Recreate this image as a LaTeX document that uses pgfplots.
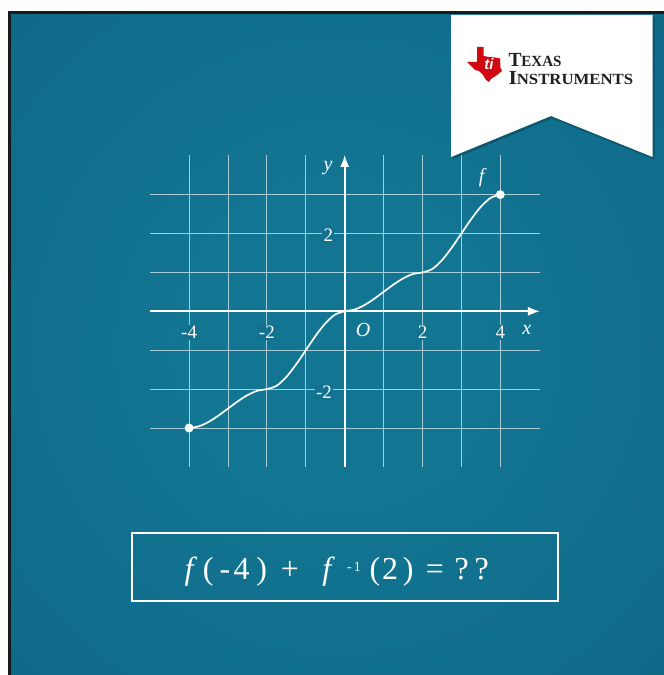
\documentclass[border=0pt]{standalone}
\usepackage{fontspec}
\setmainfont{Liberation Serif}
\newfontfamily\tisans{Liberation Sans}
\usepackage{graphicx}
\usepackage{pgfplots}
\pgfplotsset{compat=1.18}
\usetikzlibrary{arrows.meta}
\definecolor{tealA}{RGB}{18,117,146}
\definecolor{tealB}{RGB}{14,101,132}
\definecolor{tealC}{RGB}{10,85,116}
\definecolor{darkb}{RGB}{26,26,30}
\definecolor{gridc}{RGB}{165,205,215}
\definecolor{lblbg}{RGB}{17,113,142}
\definecolor{tired}{RGB}{206,10,16}
\definecolor{tiblack}{RGB}{35,31,32}
\pgfdeclareradialshading{vig}{\pgfpoint{0bp}{0bp}}{color(0bp)=(tealA); color(12bp)=(tealA); color(45bp)=(tealB); color(72bp)=(tealC)}
\newcommand{\lbl}{\fontsize{19}{19}\selectfont}
\newcommand{\lbi}{\fontsize{20}{20}\selectfont\itshape}
\begin{document}
\begin{tikzpicture}[x=1pt,y=1pt]
\path[use as bounding box] (0,0) rectangle (664,675);
\fill[white] (0,0) rectangle (664,675);
\fill[darkb] (8,0) rectangle (664,664);
\shade[shading=vig] (11,0) rectangle (664,660);
% banner
\fill[black,opacity=0.22] (452.5,658) -- (654.5,658) -- (654.5,515.5) -- (552,556.5) -- (452.5,515.5) -- cycle;
\fill[white] (451,660) -- (652.7,660) -- (652.7,518) -- (551,559) -- (451,518) -- cycle;
% TI logo
\fill[tired, shift={(467,593)}] (10,35) -- (16.5,35) -- (16.5,26) -- (22,25) -- (28,24.5) -- (33,23.5) -- (33.5,14) -- (35,11) -- (30,7) -- (24,3) -- (22,0) -- (19,2) -- (16,7) -- (12,11) -- (8,12) -- (5,15) -- (0,20) -- (10,20) -- cycle;
\node[white, font=\tisans\bfseries\itshape\fontsize{15}{15}\selectfont, inner sep=0pt] at (489,611) {ti};
\node[anchor=base west, inner sep=0pt, tiblack] at (508.3,608.3) {\scalebox{0.97}[1]{\bfseries\fontsize{20}{20}\selectfont T\fontsize{15.5}{15.5}\selectfont EXAS}};
\node[anchor=base west, inner sep=0pt, tiblack] at (508.3,590) {\scalebox{1.08}[1]{\bfseries\fontsize{20}{20}\selectfont I\fontsize{15.5}{15.5}\selectfont NSTRUMENTS}};
% graph
\begin{axis}[
  at={(344.7pt,363.7pt)}, anchor=origin,
  x=38.9pt, y=38.9pt,
  xmin=-5, xmax=5.02, ymin=-4, ymax=4.02,
  enlargelimits=false,
  axis lines*=middle,
  axis line style={white, line width=1.6pt, -{Latex[length=12pt,width=9pt]}},
  xtick={-4,...,4}, ytick={-3,...,3},
  xticklabels={}, yticklabels={},
  major tick length=0pt,
  grid=major,
  major grid style={gridc, line width=0.9pt},
  clip=false,
]
\addplot[white, line width=1.7pt, smooth] coordinates {
  (-4,-3) (-3.75,-2.957) (-3.5,-2.844) (-3.25,-2.684) (-3,-2.5) (-2.75,-2.316) (-2.5,-2.156) (-2.25,-2.043)
  (-2,-2) (-1.75,-1.914) (-1.5,-1.6875) (-1.25,-1.367) (-1,-1) (-0.75,-0.633) (-0.5,-0.3125) (-0.25,-0.086)
  (0,0) (0.25,0.043) (0.5,0.156) (0.75,0.316) (1,0.5) (1.25,0.684) (1.5,0.844) (1.75,0.957)
  (2,1) (2.25,1.086) (2.5,1.3125) (2.75,1.633) (3,2) (3.25,2.367) (3.5,2.6875) (3.75,2.914) (4,3)
};
\addplot[only marks, mark=*, mark size=4.2pt, white] coordinates {(-4,-3) (4,3)};
\node[white, font=\lbl, fill=lblbg, inner sep=1.2pt] at (axis cs:-4,-0.55) {-4};
\node[white, font=\lbl, fill=lblbg, inner sep=1.2pt] at (axis cs:-2,-0.55) {-2};
\node[white, font=\lbl, fill=lblbg, inner sep=1.2pt] at (axis cs:2,-0.55) {2};
\node[white, font=\lbl, fill=lblbg, inner sep=1.2pt] at (axis cs:4,-0.55) {4};
\node[white, font=\lbl, fill=lblbg, inner sep=1.2pt] at (axis cs:-0.42,1.96) {2};
\node[white, font=\lbl, fill=lblbg, inner sep=1.2pt] at (axis cs:-0.53,-2.08) {-2};
\node[white, font=\lbi, inner sep=0pt] at (axis cs:0.47,-0.48) {O};
\node[white, font=\lbi, inner sep=0pt] at (axis cs:4.68,-0.48) {x};
\node[white, font=\lbi, inner sep=0pt] at (axis cs:-0.43,3.67) {y};
\node[white, font=\lbi, inner sep=0pt] at (axis cs:3.52,3.43) {f};
\end{axis}
% equation box
\draw[white, line width=1.8pt] (131.7,74) rectangle (558.3,142.3);
\begin{scope}[every node/.style={white, anchor=base, inner sep=0pt, font=\fontsize{32}{34}\selectfont}]
\node at (189,95.5) {\itshape f};
\node at (208.3,95.5) {(};
\node at (225,95.5) {-};
\node at (241.7,95.5) {4};
\node at (261.7,95.5) {)};
\node at (290,95.5) {+};
\node at (326.7,95.5) {\itshape f};
\node[font=\fontsize{14}{14}\selectfont] at (354,103) {-\,1};
\node at (375,95.5) {(};
\node at (390,95.5) {2};
\node at (408.3,95.5) {)};
\node at (435,95.5) {=};
\node at (461.7,95.5) {?};
\node at (481.7,95.5) {?};
\end{scope}
\end{tikzpicture}
\end{document}
